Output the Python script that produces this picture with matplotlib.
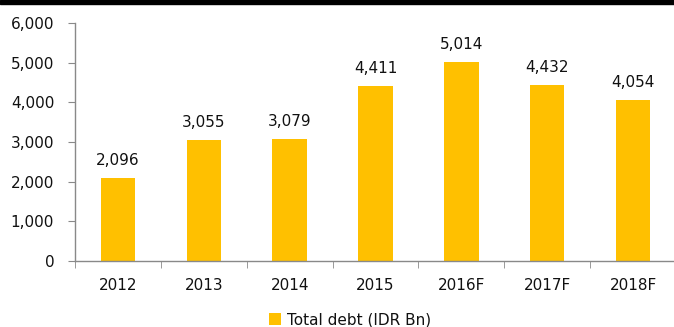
import matplotlib
matplotlib.use("Agg")
import matplotlib.pyplot as plt
from matplotlib.patches import Rectangle
import numpy as np

years = ["2012", "2013", "2014", "2015", "2016F", "2017F", "2018F"]
total_debt = [2096, 3055, 3079, 4411, 5014, 4432, 4054]
value_labels = ["2,096", "3,055", "3,079", "4,411", "5,014", "4,432", "4,054"]
y_ticks = [0, 1000, 2000, 3000, 4000, 5000, 6000]
y_tick_labels = ["0", "1,000", "2,000", "3,000", "4,000", "5,000", "6,000"]

plt.rcParams["font.family"] = ["DejaVu Sans"]
bar_color = "#FFC000"
axis_color = "#898989"
text_color = "#111111"

W, H = 674, 327
fig = plt.figure(figsize=(W / 100, H / 100), dpi=100)
# axes box in pixel units: left 75, right 676, bottom (y=261), top (y=23)
ax = fig.add_axes([75 / W, (H - 261) / H, 601 / W, 238 / H])

x = np.arange(len(years))
ax.bar(x, total_debt, width=0.40, color=bar_color, label="Total debt (IDR Bn)", zorder=2)
for xi, v, lab in zip(x, total_debt, value_labels):
    ax.annotate(lab, (xi, v), xytext=(0, 7), textcoords="offset points",
                ha="center", va="bottom", fontsize=11, color=text_color)

ax.set_xlim(-0.5, len(years) - 0.5)
ax.set_ylim(0, 6000)
ax.set_yticks(y_ticks)
ax.set_yticklabels(y_tick_labels, fontsize=11, color=text_color)
ax.set_xticks(x)
ax.set_xticklabels(years, fontsize=11, color=text_color)
ax.set_xticks(np.arange(-0.5, len(years) + 0.5, 1), minor=True)
ax.tick_params(axis="x", which="major", length=0, pad=12)
ax.tick_params(axis="x", which="minor", length=5, color=axis_color, direction="out")
ax.tick_params(axis="y", length=5, color=axis_color, direction="out", pad=10)

for side in ["top", "right"]:
    ax.spines[side].set_visible(False)
for side in ["left", "bottom"]:
    ax.spines[side].set_color(axis_color)
    ax.spines[side].set_linewidth(1)

fig.legend(loc="center", bbox_to_anchor=(350 / W, 1 - 320 / H), frameon=False,
           fontsize=11, handlelength=0.8, handleheight=0.8, handletextpad=0.4,
           labelcolor=text_color)

fig.patches.append(Rectangle((0, 1 - 4 / H), 1, 4 / H, transform=fig.transFigure,
                             color="black", zorder=5))

fig.savefig("out.png", dpi=100)
